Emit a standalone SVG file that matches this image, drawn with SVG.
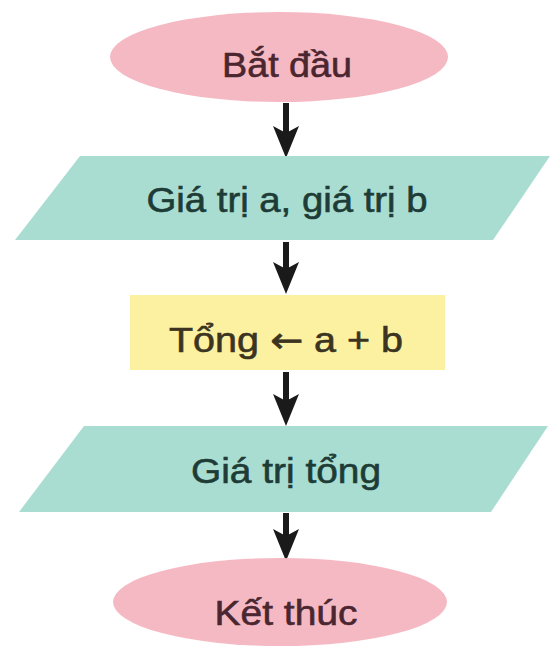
<svg xmlns="http://www.w3.org/2000/svg" width="550" height="649" viewBox="0 0 550 649">
  <style>
    .lbl { font-family: "Liberation Sans", Arial, sans-serif; font-size: 35px; text-anchor: middle; stroke-width: 0.6; }
    .arr { font-family: "DejaVu Sans", sans-serif; }
    .term { fill: #f5b9c3; }
    .io { fill: #a9ddd1; }
    .proc { fill: #fbf1a1; }
    .tterm { fill: #4a2630; stroke: #4a2630; }
    .tio { fill: #1e3c36; stroke: #1e3c36; }
    .tproc { fill: #3b3420; stroke: #3b3420; }
    .conn { stroke: #1a1a1a; stroke-width: 6; fill: none; }
  </style>
  <defs>
    <marker id="ah" markerUnits="userSpaceOnUse" viewBox="0 0 32 28" refX="10" refY="14" markerWidth="32" markerHeight="28" orient="auto">
      <path d="M0,1 L32,14 L0,27 L7,14 z" fill="#1a1a1a"/>
    </marker>
  </defs>
  <rect width="550" height="649" fill="#ffffff"/>

  <g id="connectors">
    <line class="conn" x1="286" y1="103" x2="286" y2="136" marker-end="url(#ah)"/>
    <line class="conn" x1="286" y1="242" x2="286" y2="272" marker-end="url(#ah)"/>
    <line class="conn" x1="286" y1="372" x2="286" y2="404" marker-end="url(#ah)"/>
    <line class="conn" x1="286" y1="513" x2="286" y2="539" marker-end="url(#ah)"/>
  </g>

  <g id="start">
    <ellipse class="term" cx="279" cy="57" rx="169" ry="45"/>
    <text class="lbl tterm" x="287" y="77" textLength="130" lengthAdjust="spacingAndGlyphs">Bắt đầu</text>
  </g>

  <g id="input">
    <polygon class="io" points="80,156 550,156 493,240 15,240"/>
    <text class="lbl tio" x="287" y="212" textLength="281" lengthAdjust="spacingAndGlyphs">Giá trị a, giá trị b</text>
  </g>

  <g id="process">
    <rect class="proc" x="130" y="295" width="315" height="75"/>
    <text class="lbl tproc" x="286" y="352" textLength="234" lengthAdjust="spacingAndGlyphs">Tổng <tspan class="arr">←</tspan> a + b</text>
  </g>

  <g id="output">
    <polygon class="io" points="84,426 548,426 491,512 19,512"/>
    <text class="lbl tio" x="286" y="483" textLength="190" lengthAdjust="spacingAndGlyphs">Giá trị tổng</text>
  </g>

  <g id="end">
    <ellipse class="term" cx="280" cy="602" rx="167" ry="44"/>
    <text class="lbl tterm" x="286" y="625" textLength="143" lengthAdjust="spacingAndGlyphs">Kết thúc</text>
  </g>
</svg>
